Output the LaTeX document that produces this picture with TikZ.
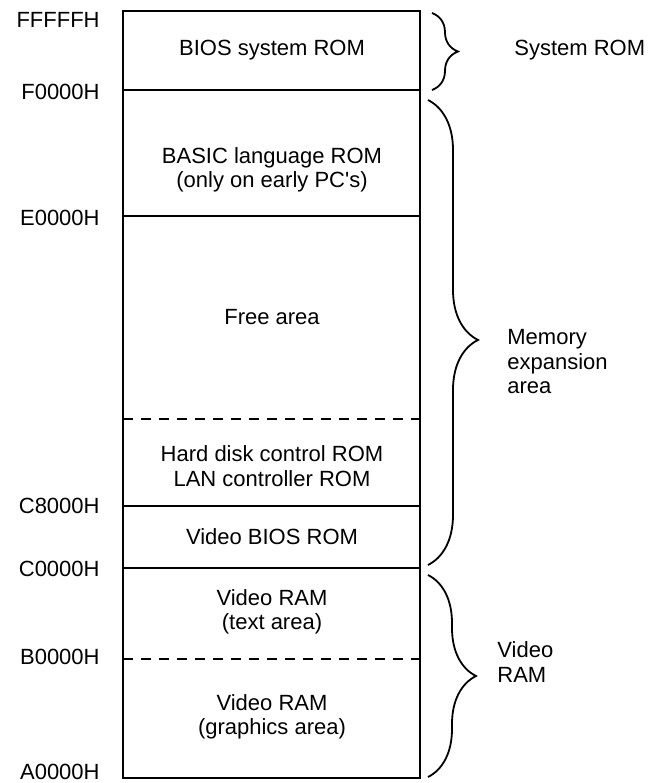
\documentclass[tikz,border=0pt]{standalone}
\usepackage{fontspec}
\setmainfont{Liberation Sans}
\usetikzlibrary{positioning}
\usetikzlibrary{decorations.pathreplacing}

\begin{document}
\begin{tikzpicture}[x=0.5pt, y=-0.5pt,
  every node/.style={font=\fontsize{11pt}{12.25pt}\selectfont, inner sep=0pt},
  addr/.style={anchor=east},
  region/.style={align=center},
  side/.style={anchor=west, align=left},
  divider/.style={line width=1pt},
  softdiv/.style={line width=1pt, dash pattern=on 5pt off 4pt},
  brc/.style={decorate, line width=0.9pt, decoration={brace, amplitude=#1}}]
  \useasboundingbox (0,0) rectangle (650,783);
  % memory map
  \draw[line width=1.4pt] (123,11) rectangle (420,778);
  \draw[divider] (123,90) -- (420,90);
  \draw[divider] (123,216) -- (420,216);
  \draw[softdiv] (123,419) -- (420,419);
  \draw[divider] (123,506) -- (420,506);
  \draw[divider] (123,568) -- (420,568);
  \draw[softdiv] (123,659) -- (420,659);

  % addresses
  \node[addr] (fffff) at (100,20) {FFFFFH};
  \node[addr] (f0000) at (100,92) {F0000H};
  \node[addr] (e0000) at (100,218) {E0000H};
  \node[addr] (c8000) at (100,506) {C8000H};
  \node[addr] (c0000) at (100,569) {C0000H};
  \node[addr] (b0000) at (100,657) {B0000H};
  \node[addr] (a0000) at (100,772) {A0000H};

  % regions
  \node[region] (bios) at (272,50) {BIOS system ROM};
  \node[region] (basic) at (272,170) {BASIC language ROM\\(only on early PC\textquotesingle s)};
  \node[region] (free) at (272,317) {Free area};
  \node[region] (hdd) at (272,466) {Hard disk control ROM\\LAN controller ROM};
  \node[region] (vbios) at (272,537) {Video BIOS ROM};
  \node[region] (vtext) at (272,612) {Video RAM\\(text area)};
  \node[region] (vgfx) at (272,717) {Video RAM\\(graphics area)};

  % groups
  \draw[brc=13pt] (432,13) -- (432,90);
  \draw[brc=25pt, decoration={aspect=0.516}] (428,100) -- (428,565);
  \draw[brc=24pt] (428,575) -- (428,777);
  \node[side] (sysrom) at (514,50) {System ROM};
  \node[side] (memexp) at (507,362) {Memory\\expansion\\area};
  \node[side] (vram) at (497,662) {Video\\RAM};
\end{tikzpicture}
\end{document}
